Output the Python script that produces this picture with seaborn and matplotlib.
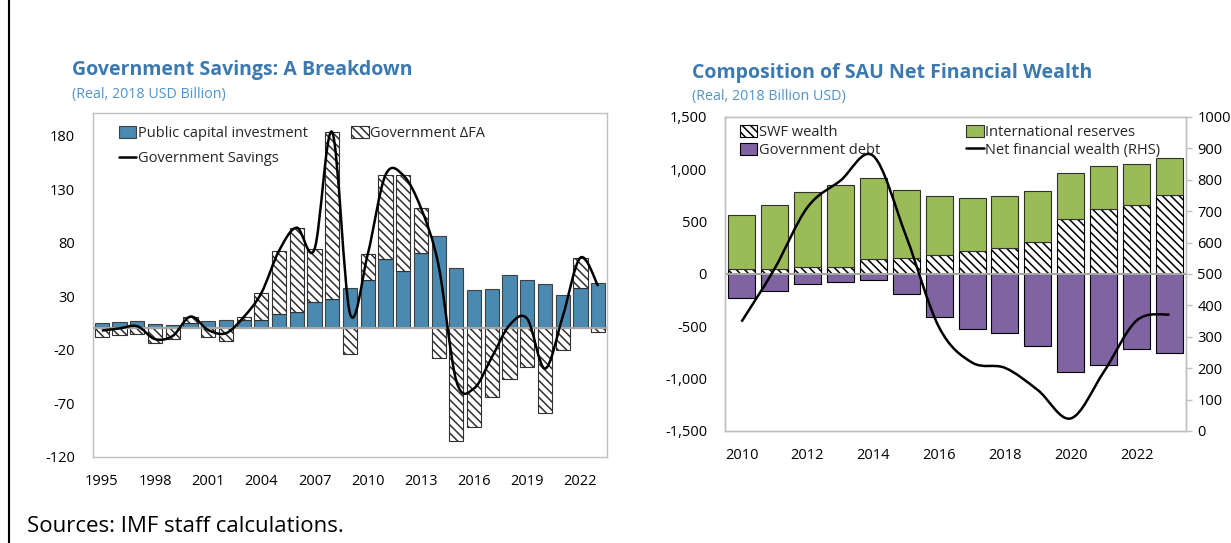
import numpy as np
import matplotlib
matplotlib.use("Agg")
import matplotlib.pyplot as plt
import matplotlib.ticker as mticker
from matplotlib.path import Path
from matplotlib.patches import PathPatch, Patch
from matplotlib.lines import Line2D
import seaborn as sns

# left panel: government savings breakdown (real, 2018 USD bn)
years_l = list(range(1995, 2024))
public_investment = [5.3, 6, 7, 4, 3, 5, 6.5, 7.5, 7.5, 7.5, 13, 15, 25, 27, 38,
                     45, 65, 54, 70, 86, 56, 36, 37, 50, 45, 41.5, 31, 38, 42.5]
gov_dfa = [-8, -6, -5, -14, -10, 6, -8, -12, 3, 25.5, 59.5, 79, 49, 156, -24,
           24, 78, 89, 42.5, -27.5, -105, -92, -64, -47, -36, -79, -20, 28, -3]
gov_savings = [-2, 0, 2, -10, -7, 11, -1.5, -4.5, 10.5, 33, 72.5, 94, 74, 183, 14,
               69, 143, 143, 112.5, 58.5, -49, -56, -27, 3, 9, -37.5, 11, 66, 39.5]
left_yticks = [-120, -70, -20, 30, 80, 130, 180]

# right panel: composition of net financial wealth
years_r = list(range(2010, 2024))
swf_wealth = [48, 48, 64, 70, 140, 150, 181, 216, 247, 301, 526, 618, 656, 751]
intl_reserves = [520, 613, 721, 782, 779, 655, 560, 510, 495, 495, 434, 418, 393, 358]
gov_debt = [-232, -162, -95, -73, -57, -188, -413, -528, -564, -685, -935, -865, -720, -755]
net_wealth = [348, 516, 712, 797, 876, 620, 330, 218, 201, 130, 40, 188, 352, 371]

BLUE = "#4A89B0"
GREEN = "#9BBB59"
PURPLE = "#8064A2"
TITLE_C = "#3C79B0"
SUB_C = "#4F94CD"
FRAME = "#BFBFBF"
HATCH = "\\\\\\\\"

sns.set_theme(style="white")
plt.rcParams["font.family"] = ["Open Sans", "DejaVu Sans"]
plt.rcParams["hatch.linewidth"] = 1.1
plt.rcParams["axes.unicode_minus"] = False


def smooth_path(x, y):
    # excel-style smoothed line: cubic bezier through every data point
    pts = np.column_stack([x, y]).astype(float)
    ext = np.vstack([pts[0], pts, pts[-1]])
    verts = [pts[0]]
    codes = [Path.MOVETO]
    for i in range(len(pts) - 1):
        p0, p1, p2, p3 = ext[i], ext[i + 1], ext[i + 2], ext[i + 3]
        verts += [p1 + (p2 - p0) / 6, p2 - (p3 - p1) / 6, p2]
        codes += [Path.CURVE4] * 3
    return Path(verts, codes)


def frame(ax):
    for s in ax.spines.values():
        s.set_visible(True)
        s.set_color(FRAME)
        s.set_linewidth(1.0)


fig = plt.figure(figsize=(12.31, 5.43), dpi=100)
axl = fig.add_axes([0.0755, 0.1584, 0.4176, 0.6335])
axr = fig.add_axes([0.589, 0.2063, 0.3745, 0.5783])

# ---- left panel
dfa_bottom = [p if d > 0 else 0 for p, d in zip(public_investment, gov_dfa)]
sns.barplot(x=years_l, y=public_investment, native_scale=True, color=BLUE,
            saturation=1, width=0.8, edgecolor="#404040", linewidth=0.8,
            errorbar=None, ax=axl)
sns.barplot(x=years_l, y=gov_dfa, native_scale=True, color="white",
            saturation=1, width=0.8, edgecolor="#303030", linewidth=0.8,
            hatch=HATCH, bottom=dfa_bottom, errorbar=None, ax=axl)
axl.axhline(0, color="#A6A6A6", lw=1.5, zorder=3)
axl.add_patch(PathPatch(smooth_path(years_l, gov_savings), fill=False,
                        edgecolor="black", lw=1.8, zorder=5))
axl.set_xlim(1994.5, 2023.5)
axl.set_ylim(-120, 201)
axl.set_yticks(left_yticks)
axl.set_xticks(list(range(1995, 2023, 3)))
axl.tick_params(axis="both", length=0, labelsize=10.5, colors="black")
axl.tick_params(axis="x", pad=12)
axl.tick_params(axis="y", pad=13)
frame(axl)

hl = [Patch(facecolor=BLUE, edgecolor="#404040", lw=0.8),
      Line2D([], [], color="black", lw=1.8),
      Patch(facecolor="white", edgecolor="#303030", hatch=HATCH, lw=0.8)]
axl.legend(hl, ["Public capital investment", "Government Savings", "Government \u0394FA"],
           ncol=2, loc="upper left", bbox_to_anchor=(0.05, 0.962), frameon=False,
           fontsize=10.5, handlelength=1.2, handleheight=0.9, handletextpad=0.1,
           columnspacing=3.0, borderpad=0, borderaxespad=0, labelspacing=0.68)

# ---- right panel
sns.barplot(x=years_r, y=swf_wealth, native_scale=True, color="white",
            saturation=1, width=0.82, edgecolor="black", linewidth=0.8,
            hatch=HATCH, errorbar=None, ax=axr)
sns.barplot(x=years_r, y=intl_reserves, native_scale=True, color=GREEN,
            saturation=1, width=0.82, edgecolor="#303030", linewidth=0.8,
            bottom=swf_wealth, errorbar=None, ax=axr)
sns.barplot(x=years_r, y=gov_debt, native_scale=True, color=PURPLE,
            saturation=1, width=0.82, edgecolor="black", linewidth=0.8,
            errorbar=None, ax=axr)
axr.axhline(0, color="#A6A6A6", lw=1.5, zorder=3)
axr.set_xlim(2009.5, 2023.5)
axr.set_ylim(-1500, 1500)
axr.set_yticks(range(-1500, 1501, 500))
axr.yaxis.set_major_formatter(mticker.FuncFormatter(lambda v, p: f"{v:,.0f}"))
axr.set_xticks(list(range(2010, 2023, 2)))
axr.tick_params(axis="both", length=0, labelsize=10.5, colors="black")
axr.tick_params(axis="x", pad=12)
axr.tick_params(axis="y", pad=13)
frame(axr)

axt = axr.twinx()
axt.add_patch(PathPatch(smooth_path(years_r, net_wealth), fill=False,
                        edgecolor="black", lw=1.8, zorder=5))
axt.set_ylim(0, 1000)
axt.set_yticks(range(0, 1001, 100))
axt.tick_params(axis="y", direction="out", length=4, width=1, color=FRAME,
                labelsize=10.5, pad=4, labelcolor="black")
frame(axt)

hr = [Patch(facecolor="white", edgecolor="black", hatch=HATCH, lw=0.8),
      Patch(facecolor=PURPLE, edgecolor="black", lw=0.8),
      Patch(facecolor=GREEN, edgecolor="#303030", lw=0.8),
      Line2D([], [], color="black", lw=1.8)]
axt.legend(hr, ["SWF wealth", "Government debt", "International reserves",
                "Net financial wealth (RHS)"],
           ncol=2, loc="upper left", bbox_to_anchor=(0.032, 0.975), frameon=False,
           fontsize=10.5, handlelength=1.2, handleheight=0.9, handletextpad=0.1,
           columnspacing=5.9, borderpad=0, borderaxespad=0, labelspacing=0.2)

# ---- titles and notes
fig.text(0.0585, 0.871, "Government Savings: A Breakdown", fontsize=14,
         fontweight="bold", color=TITLE_C, va="center")
fig.text(0.0585, 0.826, "(Real, 2018 USD Billion)", fontsize=10.3, color=SUB_C, va="center")
fig.text(0.562, 0.866, "Composition of SAU Net Financial Wealth", fontsize=14,
         fontweight="bold", color=TITLE_C, va="center")
fig.text(0.562, 0.822, "(Real, 2018 Billion USD)", fontsize=10.3, color=SUB_C, va="center")
fig.text(0.022, 0.03, "Sources: IMF staff calculations.", fontsize=16,
         color="black", va="center")
fig.add_artist(Line2D([0.0073, 0.0073], [0, 1], transform=fig.transFigure,
                      color="black", lw=1.5))

fig.savefig("out.png", dpi=100)
